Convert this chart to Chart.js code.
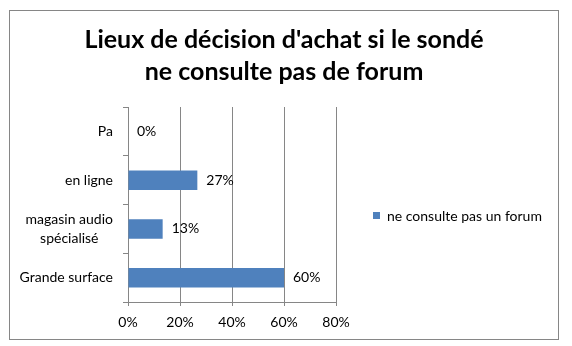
<!DOCTYPE html>
<html>
<head>
<meta charset="utf-8">
<script src="https://cdn.jsdelivr.net/npm/chart.js@4"></script>
<style>
html, body { margin: 0; padding: 0; background: #fff; }
</style>
</head>
<body>
<canvas id="graphique" width="572" height="346"></canvas>
<script>
// Données du graphique
const titre = ["Lieux de décision d'achat si le sondé", 'ne consulte pas de forum'];
const lieux = ['Pa', 'en ligne', ['magasin audio', 'spécialisé'], 'Grande surface'];
const pourcentages = [0, 26.67, 13.33, 60];
const nomSerie = 'ne consulte pas un forum';
const graduations = [0, 20, 40, 60, 80];

const gris = '#868686';
const bleu = '#4F81BD';
const police = 'Lato, sans-serif';

// Cadre, titre, libellés des catégories, étiquettes de valeurs et légende
const dessinsExcel = {
    id: 'dessinsExcel',
    beforeDraw(chart) {
        const ctx = chart.ctx;
        ctx.save();
        ctx.fillStyle = '#fff';
        ctx.fillRect(0, 0, chart.width, chart.height);
        ctx.strokeStyle = gris;
        ctx.lineWidth = 1;
        ctx.strokeRect(9.5, 10.5, 549, 329);
        ctx.restore();
    },
    afterDraw(chart) {
        const ctx = chart.ctx;
        ctx.save();
        ctx.fillStyle = '#000';

        // titre
        ctx.textAlign = 'center';
        ctx.textBaseline = 'alphabetic';
        ctx.font = 'bold 25px ' + police;
        ctx.fillText(titre[0], 284, 48);
        ctx.fillText(titre[1], 284, 80);

        // libellés de l'axe vertical (bloc aligné à droite, lignes centrées)
        const echelleY = chart.scales.y;
        ctx.font = '14px ' + police;
        ctx.textBaseline = 'middle';
        lieux.forEach((lieu, i) => {
            const lignes = Array.isArray(lieu) ? lieu : [lieu];
            const largeur = Math.max(...lignes.map(l => ctx.measureText(l).width));
            const y = echelleY.getPixelForTick(i);
            const xCentre = echelleY.right - 15 - largeur / 2;
            lignes.forEach((l, j) => {
                ctx.fillText(l, xCentre, y + (j - (lignes.length - 1) / 2) * 19);
            });
        });

        // étiquettes de valeurs
        ctx.textAlign = 'left';
        chart.getDatasetMeta(0).data.forEach((barre, i) => {
            ctx.fillText(Math.round(pourcentages[i]) + '%', barre.x + 9, barre.y);
        });

        // légende
        const serie = chart.data.datasets[0];
        ctx.fillStyle = serie.backgroundColor;
        ctx.fillRect(373, 212, 7, 7);
        ctx.fillStyle = '#000';
        ctx.fillText(serie.label, 387, 216);
        ctx.restore();
    }
};

new Chart(document.getElementById('graphique'), {
    type: 'bar',
    data: {
        labels: lieux,
        datasets: [{
            label: nomSerie,
            data: pourcentages,
            backgroundColor: bleu,
            categoryPercentage: 1,
            barPercentage: 0.4
        }]
    },
    options: {
        indexAxis: 'y',
        responsive: false,
        animation: false,
        layout: { padding: { top: 107, right: 236, left: 0, bottom: 0 } },
        plugins: {
            legend: { display: false },
            title: { display: false },
            tooltip: { enabled: false }
        },
        scales: {
            x: {
                min: graduations[0],
                max: graduations[graduations.length - 1],
                afterBuildTicks: s => { s.ticks = graduations.map(v => ({ value: v })); },
                ticks: {
                    callback: v => v + '%',
                    color: '#000',
                    font: { family: police, size: 14 },
                    padding: 8
                },
                grid: { color: gris, tickLength: 4 },
                border: { color: gris },
                afterFit: s => { s.height = 44; }
            },
            y: {
                grid: { drawOnChartArea: false, tickLength: 5, color: gris, offset: true },
                border: { color: gris },
                ticks: { display: false },
                afterFit: s => { s.width = 128; }
            }
        }
    },
    plugins: [dessinsExcel]
});
</script>
</body>
</html>
